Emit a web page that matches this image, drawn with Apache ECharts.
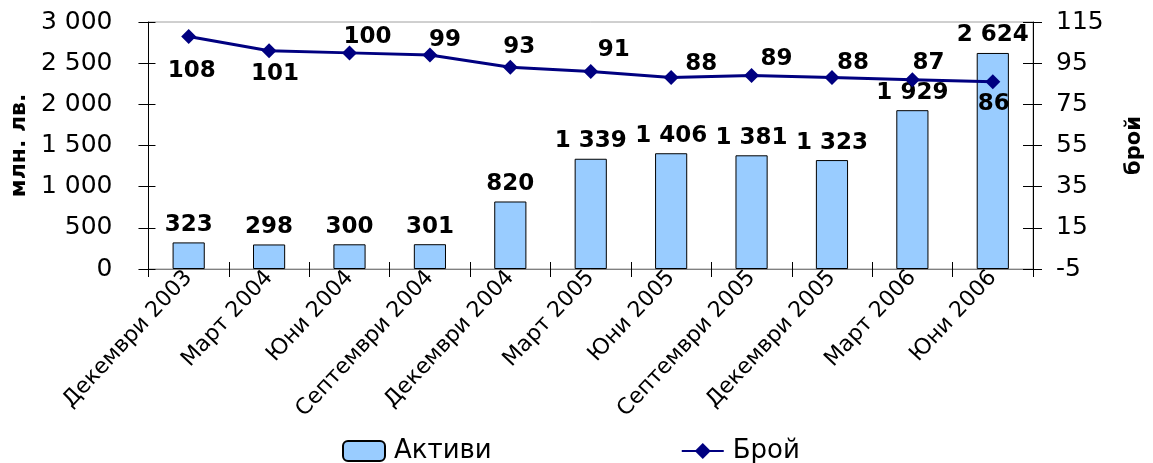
<!DOCTYPE html>
<html>
<head>
<meta charset="utf-8">
<script src="https://cdn.jsdelivr.net/npm/echarts@6/dist/echarts.min.js"></script>
<style>
  html, body { margin: 0; padding: 0; background: #ffffff; }
  #chart { width: 1153px; height: 463px; }
</style>
</head>
<body>
<div id="chart"></div>
<script>
// ---- data ----
const categories = ['Декември 2003', 'Март 2004', 'Юни 2004', 'Септември 2004', 'Декември 2004',
  'Март 2005', 'Юни 2005', 'Септември 2005', 'Декември 2005', 'Март 2006', 'Юни 2006'];
const assets = [323, 298, 300, 301, 820, 1339, 1406, 1381, 1323, 1929, 2624];
const counts = [108, 101, 100, 99, 93, 91, 88, 89, 88, 87, 86];
const rightTicks = [-5, 15, 35, 55, 75, 95, 115];

// label placement of the line values (pixel offsets from the marker)
const countLabelOffsets = [[3, 35], [6, 23], [18, -16], [15, -15], [9, -20], [23, -21],
  [30, -14], [25, -16], [21, -15], [16, -17], [1, 22]];

const FONT = 'DejaVu Sans';
const fmt = v => String(v).replace(/\B(?=(\d{3})+(?!\d))/g, ' ');

const chart = echarts.init(document.getElementById('chart'), null, { renderer: 'canvas' });

const countData = counts.map((v, i) => ({
  value: v,
  label: { offset: countLabelOffsets[i] }
}));

const option = {
  backgroundColor: '#ffffff',
  animation: false,
  textStyle: { fontFamily: FONT },
  grid: {
    left: 148, right: 110, top: 22, bottom: 194,
    show: true, borderColor: '#a0a0a0', borderWidth: 1, backgroundColor: 'transparent'
  },
  legend: {
    data: ['Активи', 'Брой'],
    left: 337, top: 433,
    itemWidth: 42, itemHeight: 20, itemGap: 189,
    textStyle: { fontFamily: FONT, fontSize: 26, color: '#000', padding: [0, 0, 0, 4] }
  },
  xAxis: [{
    type: 'category',
    data: categories,
    boundaryGap: true,
    axisLine: { onZero: false, lineStyle: { color: '#808080', width: 1 } },
    axisTick: { show: true, length: 8, inside: false, interval: 0, lineStyle: { color: '#000' } },
    axisLabel: {
      rotate: 47, fontFamily: FONT, fontSize: 22, color: '#000',
      margin: 5, interval: 0
    }
  }, {
    type: 'category',
    data: categories,
    position: 'bottom',
    boundaryGap: true,
    axisLine: { show: false, onZero: false },
    axisTick: { show: true, length: 7, inside: true, interval: 0, lineStyle: { color: '#000' } },
    axisLabel: { show: false, interval: 0 }
  }],
  yAxis: [{
    type: 'value',
    position: 'left',
    min: 0, max: 3000, interval: 500,
    name: 'млн. лв.',
    nameLocation: 'middle',
    nameGap: 117,
    nameRotate: 90,
    nameTextStyle: { fontFamily: FONT, fontSize: 22, fontWeight: 'bold', color: '#000' },
    axisLine: { show: true, onZero: false, lineStyle: { color: '#000', width: 1 } },
    axisTick: { show: true, length: 10, lineStyle: { color: '#000' } },
    axisLabel: { fontFamily: FONT, fontSize: 25, color: '#000', margin: 36, formatter: v => fmt(v) },
    splitLine: { show: false }
  }, {
    type: 'value',
    position: 'right',
    min: -5, max: 115,
    name: 'брой',
    nameLocation: 'middle',
    nameGap: 91,
    nameRotate: 90,
    nameTextStyle: { fontFamily: FONT, fontSize: 21, fontWeight: 'bold', color: '#000' },
    axisLine: { show: true, onZero: false, lineStyle: { color: '#000', width: 1 } },
    axisTick: { show: true, length: 9, customValues: rightTicks, lineStyle: { color: '#000' } },
    axisLabel: { fontFamily: FONT, fontSize: 25, color: '#000', margin: 23, customValues: rightTicks },
    splitLine: { show: false }
  }, {
    type: 'value',
    position: 'left',
    min: 0, max: 3000, interval: 500,
    axisLine: { show: false, onZero: false },
    axisTick: { show: true, inside: true, length: 7, lineStyle: { color: '#000' } },
    axisLabel: { show: false },
    splitLine: { show: false }
  }, {
    type: 'value',
    position: 'right',
    min: -5, max: 115,
    axisLine: { show: false, onZero: false },
    axisTick: { show: true, inside: true, length: 10, customValues: rightTicks, lineStyle: { color: '#000' } },
    axisLabel: { show: false, customValues: rightTicks },
    splitLine: { show: false }
  }],
  series: [{
    name: 'Активи',
    type: 'bar',
    xAxisIndex: 0,
    yAxisIndex: 0,
    data: assets,
    barWidth: '40%',
    itemStyle: { color: '#99ccff', borderColor: '#000', borderWidth: 1 },
    label: {
      show: true, position: 'top', distance: 6,
      fontFamily: FONT, fontSize: 23, fontWeight: 'bold', color: '#000',
      formatter: p => fmt(p.value)
    },
    z: 2
  }, {
    name: 'Брой',
    type: 'line',
    xAxisIndex: 0,
    yAxisIndex: 1,
    data: countData,
    symbol: 'diamond',
    symbolSize: 15,
    lineStyle: { color: '#000080', width: 3 },
    itemStyle: { color: '#000080' },
    label: {
      show: true, position: 'inside',
      fontFamily: FONT, fontSize: 23, fontWeight: 'bold', color: '#000'
    },
    z: 3
  }]
};

chart.setOption(option);
</script>
</body>
</html>
